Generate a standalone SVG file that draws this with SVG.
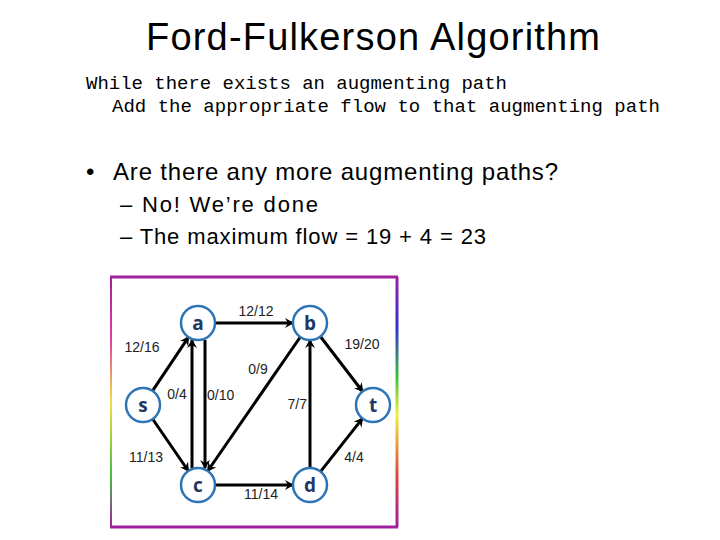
<svg xmlns="http://www.w3.org/2000/svg" width="720" height="540" viewBox="0 0 720 540">
<defs>
<marker id="ah" markerWidth="10" markerHeight="10" refX="8" refY="5" orient="auto" markerUnits="userSpaceOnUse"><path d="M0,0 L9,5 L0,10 L3,5 Z" fill="#000"/></marker>
<linearGradient id="lg" gradientUnits="userSpaceOnUse" x1="0" y1="277" x2="0" y2="527"><stop offset="0" stop-color="#a020a0"/><stop offset="0.25" stop-color="#e040a0"/><stop offset="0.5" stop-color="#f0e040"/><stop offset="0.8" stop-color="#40c040"/><stop offset="1" stop-color="#a020a0"/></linearGradient>
<linearGradient id="rg" gradientUnits="userSpaceOnUse" x1="0" y1="277" x2="0" y2="527"><stop offset="0" stop-color="#a020a0"/><stop offset="0.2" stop-color="#3030d0"/><stop offset="0.4" stop-color="#40c040"/><stop offset="0.55" stop-color="#f0f040"/><stop offset="0.8" stop-color="#e04040"/><stop offset="1" stop-color="#a020a0"/></linearGradient>
</defs>
<style>
.t{font-family:"Liberation Sans",Arial,sans-serif;fill:#000}
.m{font-family:"Liberation Mono","Courier New",monospace;font-size:19px;fill:#000}
.n circle{fill:#fff;stroke:#2e75b6;stroke-width:2.5}
.n text{font-family:"Open Sans","Liberation Sans",sans-serif;font-weight:bold;font-size:19px;fill:#1f3864;text-anchor:middle}
.e line{stroke:#000;stroke-width:3;marker-end:url(#ah)}
.l{font-family:"Liberation Sans",Arial,sans-serif;font-size:14px;fill:#222;text-anchor:middle}
.l.s{text-anchor:start}
.l.en{text-anchor:end}
</style>
<rect width="720" height="540" fill="#fff"/>
<text class="t" x="373" y="50" font-size="38" text-anchor="middle" textLength="454">Ford-Fulkerson Algorithm</text>
<text class="m" x="86" y="89" textLength="421">While there exists an augmenting path</text>
<text class="m" x="112" y="112" textLength="548">Add the appropriate flow to that augmenting path</text>
<text class="t" x="86" y="180" font-size="24">•</text>
<text class="t" x="113" y="180" font-size="24" textLength="445">Are there any more augmenting paths?</text>
<text class="t" x="120" y="212" font-size="22" textLength="198">– No!  We’re done</text>
<text class="t" x="120" y="244" font-size="22" textLength="366">– The maximum flow = 19 + 4 = 23</text>
<g id="frame">
<line x1="110" y1="277" x2="398" y2="277" stroke="#a020a0" stroke-width="3"/>
<line x1="110" y1="527" x2="398" y2="527" stroke="#a020a0" stroke-width="3"/>
<line x1="111" y1="277" x2="111" y2="527" stroke="url(#lg)" stroke-width="2"/>
<line x1="397" y1="277" x2="397" y2="527" stroke="url(#rg)" stroke-width="3"/>
</g>
<g id="edges" class="e">
<line x1="152.5" y1="390.9" x2="188.5" y2="337.1"/>
<line x1="152.6" y1="419" x2="188.4" y2="471"/>
<line x1="215" y1="323" x2="293" y2="323"/>
<line x1="205" y1="340" x2="205" y2="468"/>
<line x1="192" y1="468" x2="192" y2="340"/>
<line x1="300.3" y1="337" x2="207.7" y2="471"/>
<line x1="320.4" y1="336.5" x2="362.6" y2="391.5"/>
<line x1="310" y1="468" x2="310" y2="340"/>
<line x1="215" y1="485" x2="293" y2="485"/>
<line x1="320.5" y1="471.6" x2="362.5" y2="418.4"/>
</g>
<g id="labels">
<text class="l" x="256" y="316">12/12</text>
<text class="l" x="142" y="352">12/16</text>
<text class="l" x="362" y="349">19/20</text>
<text class="l" x="258" y="374">0/9</text>
<text class="l" x="177" y="399">0/4</text>
<text class="l s" x="207" y="400">0/10</text>
<text class="l en" x="307" y="409">7/7</text>
<text class="l" x="146" y="462">11/13</text>
<text class="l" x="354" y="462">4/4</text>
<text class="l" x="261" y="499">11/14</text>
</g>
<g id="node-a" class="n"><circle cx="198" cy="323" r="17"/><text x="198" y="330">a</text></g>
<g id="node-b" class="n"><circle cx="310" cy="323" r="17"/><text x="310" y="330">b</text></g>
<g id="node-s" class="n"><circle cx="143" cy="405" r="17"/><text x="143" y="412">s</text></g>
<g id="node-t" class="n"><circle cx="373" cy="405" r="17"/><text x="373" y="412">t</text></g>
<g id="node-c" class="n"><circle cx="198" cy="485" r="17"/><text x="198" y="492">c</text></g>
<g id="node-d" class="n"><circle cx="310" cy="485" r="17"/><text x="310" y="492">d</text></g>
</svg>
